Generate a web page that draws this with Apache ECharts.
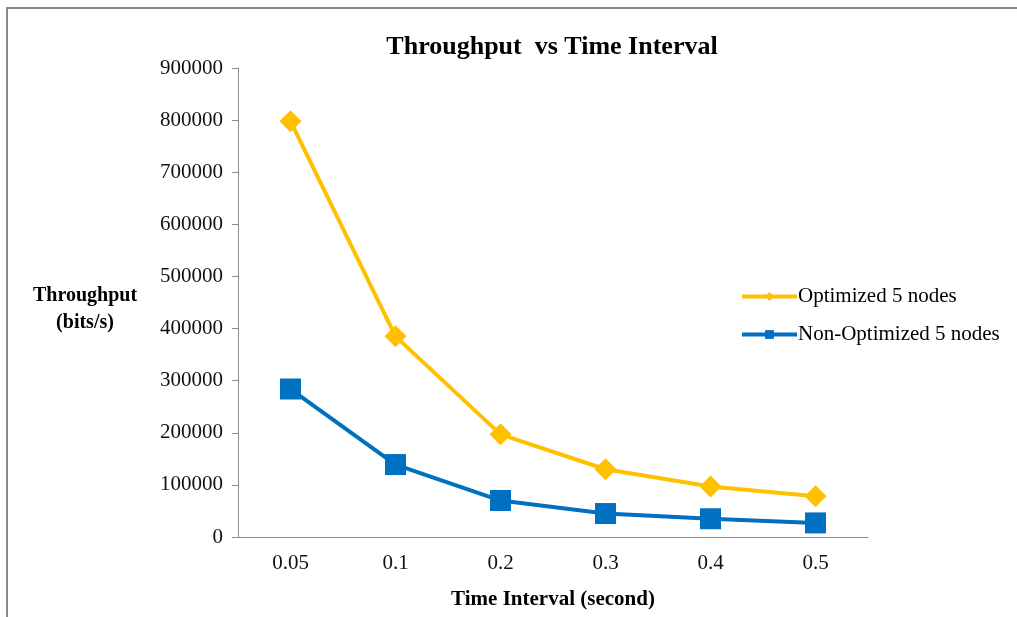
<!DOCTYPE html>
<html>
<head>
<meta charset="utf-8">
<script src="https://cdn.jsdelivr.net/npm/echarts@6/dist/echarts.min.js"></script>
<style>
  html, body { margin: 0; padding: 0; background: #fff; }
  #chart { width: 1017px; height: 617px; }
</style>
</head>
<body>
<div id="chart"></div>
<script>
var categories = ["0.05", "0.1", "0.2", "0.3", "0.4", "0.5"];
var optimized = [798000, 385000, 197000, 130000, 97000, 78000];
var nonOptimized = [284000, 139000, 70000, 45000, 35000, 27000];
var seriesNames = ["Optimized 5 nodes", "Non-Optimized 5 nodes"];

var FONT = "Liberation Serif";

var myChart = echarts.init(document.getElementById("chart"));

var option = {
  backgroundColor: "#fff",
  animation: false,
  title: [
    {
      text: "Throughput  vs Time Interval",
      left: 547,
      top: 29,
      textAlign: "center",
      textStyle: { fontFamily: FONT, fontSize: 26, fontWeight: "bold", color: "#000" },
    },
    {
      text: "Throughput\n(bits/s)",
      left: 80,
      top: 277,
      textAlign: "center",
      textStyle: { fontFamily: FONT, fontSize: 20, fontWeight: "bold", color: "#000", lineHeight: 27, align: "center" },
    },
  ],
  grid: { left: 238, right: 149, top: 68, bottom: 80 },
  legend: {
    orient: "vertical",
    left: 735,
    top: 281,
    itemWidth: 55,
    itemHeight: 11,
    itemGap: 17,
    lineStyle: { width: 4 },
    textStyle: { fontFamily: FONT, fontSize: 21, color: "#000", padding: [0, 0, 0, -4] },
    data: seriesNames,
  },
  xAxis: {
    type: "category",
    data: categories,
    boundaryGap: true,
    name: "Time Interval (second)",
    nameLocation: "middle",
    nameGap: 52,
    nameTextStyle: { fontFamily: FONT, fontSize: 21, fontWeight: "bold", color: "#000" },
    axisLine: { lineStyle: { color: "#8c8c8c", width: 1 } },
    axisTick: { show: false },
    axisLabel: { fontFamily: FONT, fontSize: 21, color: "#111", margin: 16 },
  },
  yAxis: {
    type: "value",
    min: 0,
    max: 900000,
    interval: 100000,
    axisLine: { show: true, lineStyle: { color: "#8c8c8c", width: 1 } },
    axisTick: { show: true, inside: false, length: 6, lineStyle: { color: "#8c8c8c" } },
    splitLine: { show: false },
    axisLabel: { fontFamily: FONT, fontSize: 21, color: "#111", margin: 15, formatter: function (v) { return String(v); } },
  },
  series: [
    {
      name: seriesNames[0],
      type: "line",
      data: optimized,
      symbol: "diamond",
      symbolSize: 22,
      lineStyle: { color: "#ffc000", width: 4 },
      itemStyle: { color: "#ffc000" },
    },
    {
      name: seriesNames[1],
      type: "line",
      data: nonOptimized,
      symbol: "rect",
      symbolSize: 21,
      lineStyle: { color: "#0070c0", width: 4 },
      itemStyle: { color: "#0070c0" },
    },
  ],
  graphic: [
    { type: "line", shape: { x1: 6, y1: 8, x2: 1017, y2: 8 }, style: { stroke: "#8a8a8a", lineWidth: 2 } },
    { type: "line", shape: { x1: 7, y1: 8, x2: 7, y2: 617 }, style: { stroke: "#8a8a8a", lineWidth: 2 } },
  ],
};

myChart.setOption(option);
</script>
</body>
</html>
